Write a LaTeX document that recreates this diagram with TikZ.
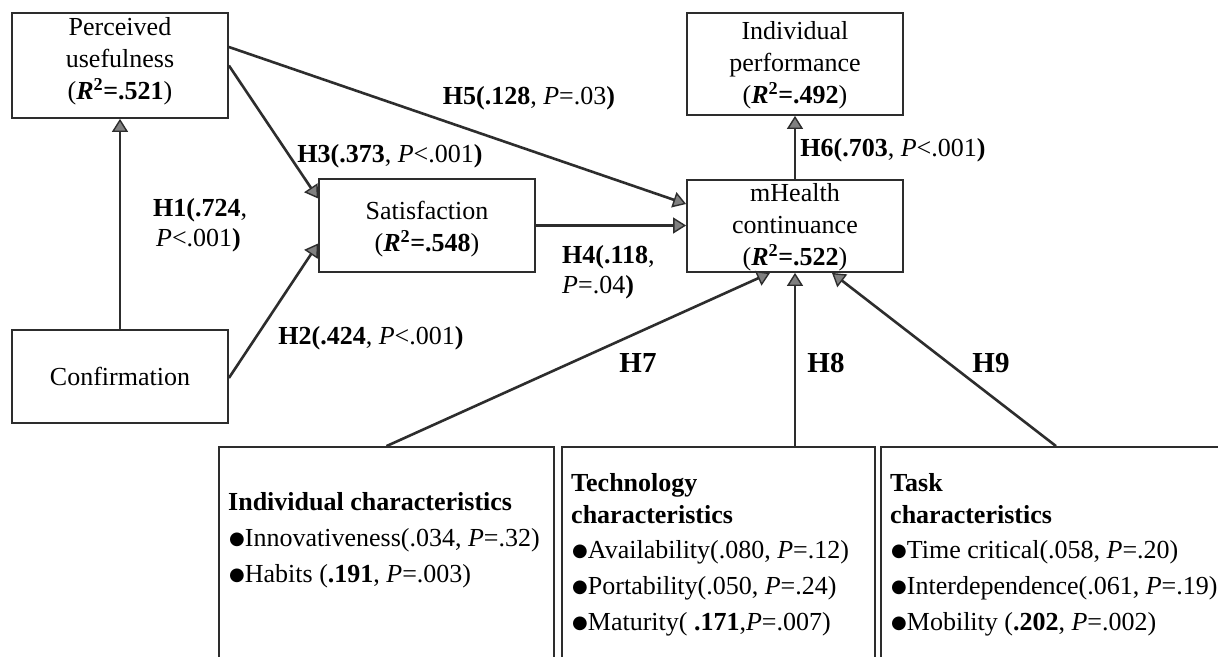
\documentclass[tikz,border=0pt]{standalone}
\usepackage{fontspec}
\setmainfont{Liberation Serif}
\newfontfamily\dvs{DejaVu Sans}
\usetikzlibrary{arrows.meta}
\definecolor{linec}{RGB}{45,45,45}
\definecolor{arrowfill}{RGB}{128,128,128}
\newcommand{\bul}{\raisebox{1.5pt}{\dvs\fontsize{18}{18}\selectfont ●}}
\newcommand{\Rsq}[1]{(\textbf{\textit{R}\textsuperscript{2}=#1})}
\tikzset{
  box/.style={draw=linec, line width=1.8pt, minimum width=216pt, inner sep=0pt, align=center, font=\fontsize{26}{32}\selectfont},
  boxtext/.style={inner sep=0pt, align=center, font=\fontsize{26}{32}\selectfont},
  bigbox/.style={draw=linec, line width=1.8pt, inner sep=0pt},
  conn/.style={draw=linec, line width=2.6pt, -{Triangle[length=13pt,width=16pt,fill=arrowfill,line width=1.4pt]}},
  lab/.style={inner sep=0pt, font=\fontsize{26}{32}\selectfont},
  hbig/.style={inner sep=0pt, font=\fontsize{29}{32}\selectfont\bfseries},
  item/.style={inner sep=0pt, anchor=base west, font=\fontsize{26}{32}\selectfont},
}
\begin{document}
\begin{tikzpicture}[x=1pt,y=-1pt]
\useasboundingbox (0,0) rectangle (1218,656);
\clip (0,0) rectangle (1218,656);
\fill[white] (0,0) rectangle (1218,656);

% upper boxes
\node[box, minimum height=105pt] (pu) at (120,65.5) {};
\node[boxtext] (put) at (120,61) {Perceived\\usefulness\\\Rsq{.521}};
\node[box, minimum height=93pt] (conf) at (120,376.5) {Confirmation};
\node[box, minimum height=93pt] (sat) at (427,225.5) {};
\node[boxtext] (satt) at (427,229.5) {Satisfaction\\\Rsq{.548}};
\node[box, minimum height=92pt] (mh) at (795,226) {};
\node[boxtext] (mht) at (795,227.5) {mHealth\\continuance\\\Rsq{.522}};
\node[box, minimum height=102pt] (ip) at (795,64) {};
\node[boxtext] (ipt) at (795,65) {Individual\\performance\\\Rsq{.492}};

% lower boxes (run past the bottom edge)
\node[bigbox, minimum width=335pt, minimum height=253pt] (ic) at (386.5,573.5) {};
\node[bigbox, minimum width=313pt, minimum height=253pt] (tc) at (718.5,573.5) {};
\node[bigbox, minimum width=350pt, minimum height=253pt] (tk) at (1056,573.5) {};

% lower box texts
\node[item] (ic0) at (228,510) {\textbf{Individual characteristics}};
\node[item] (ic1) at (229,546) {\bul Innovativeness(.034, \textit{P}=.32)};
\node[item] (ic2) at (229,582) {\bul Habits (\textbf{.191}, \textit{P}=.003)};

\node[item] (tc0) at (571,491) {\textbf{Technology}};
\node[item] (tc0b) at (571,523) {\textbf{characteristics}};
\node[item] (tc1) at (572,558) {\bul Availability(.080, \textit{P}=.12)};
\node[item] (tc2) at (572,594) {\bul Portability(.050, \textit{P}=.24)};
\node[item] (tc3) at (572,630) {\bul Maturity( \textbf{.171},\textit{P}=.007)};

\node[item] (tk0) at (890,491) {\textbf{Task}};
\node[item] (tk0b) at (890,523) {\textbf{characteristics}};
\node[item] (tk1) at (891,558) {\bul Time critical(.058, \textit{P}=.20)};
\node[item] (tk2) at (891,594) {\bul Interdependence(.061, \textit{P}=.19)};
\node[item] (tk3) at (891,630) {\bul Mobility (\textbf{.202}, \textit{P}=.002)};

% connectors
\draw[conn] (conf.north) -- (pu.south);
\draw[conn] (pu.east) -- ([yshift=27pt]sat.west);
\draw[conn] ([yshift=-1.5pt]conf.east) -- ([yshift=-18pt]sat.west);
\draw[conn] ([yshift=18.5pt]pu.east) -- ([yshift=22pt]mh.west);
\draw[conn] (sat.east) -- (sat.east -| mh.west);
\draw[conn] (mh.north) -- (ip.south);
\draw[conn] (ic.north) -- ([xshift=-25pt]mh.south);
\draw[conn] (mh.south |- tc.north) -- (mh.south);
\draw[conn] (tk.north) -- ([xshift=37pt]mh.south);

% labels
\node[item] (h1a) at (153,216) {\textbf{H1(.724},};
\node[item] (h1b) at (156,246) {\textit{P}<.001\textbf{)}};
\node[lab] (h3) at (390,156) {\textbf{H3(.373}, \textit{P}<.001\textbf{)}};
\node[lab] (h5) at (529,98) {\textbf{H5(.128}, \textit{P}=.03\textbf{)}};
\node[lab] (h2) at (371,338) {\textbf{H2(.424}, \textit{P}<.001\textbf{)}};
\node[item] (h4a) at (562,263) {\textbf{H4(.118},};
\node[item] (h4b) at (562,293) {\textit{P}=.04\textbf{)}};
\node[lab] (h6) at (893,150) {\textbf{H6(.703}, \textit{P}<.001\textbf{)}};
\node[hbig] (h7) at (638,363) {H7};
\node[hbig] (h8) at (826,363) {H8};
\node[hbig] (h9) at (991,363) {H9};
\end{tikzpicture}
\end{document}
